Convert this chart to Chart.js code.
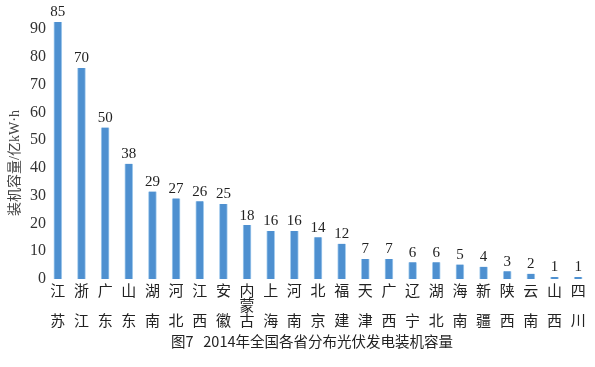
<!DOCTYPE html>
<html>
<head>
<meta charset="utf-8">
<script src="https://cdn.jsdelivr.net/npm/chart.js@4/dist/chart.umd.min.js"></script>
<style>
  html, body { margin: 0; padding: 0; background: #fff; }
  #wrap { width: 595px; height: 367px; position: relative; }
</style>
</head>
<body>
<div id="wrap"><canvas id="chart"></canvas></div>
<script>
// provinces, written top-to-bottom as in the picture
const provinces = [
  ['江', '', '苏'], ['浙', '', '江'], ['广', '', '东'], ['山', '', '东'],
  ['湖', '', '南'], ['河', '', '北'], ['江', '', '西'], ['安', '', '徽'],
  ['内', '蒙', '古'], ['上', '', '海'], ['河', '', '南'], ['北', '', '京'],
  ['福', '', '建'], ['天', '', '津'], ['广', '', '西'], ['辽', '', '宁'],
  ['湖', '', '北'], ['海', '', '南'], ['新', '', '疆'], ['陕', '', '西'],
  ['云', '', '南'], ['山', '', '西'], ['四', '', '川']
];
// printed value over each bar
const labelValues = [85, 70, 50, 38, 29, 27, 26, 25, 18, 16, 16, 14, 12, 7, 7, 6, 6, 5, 4, 3, 2, 1, 1];
// bar heights as they sit against the axis in the picture
const barHeights = [92.5, 76, 54.5, 41.5, 31.5, 29, 28, 27, 19.4, 17.3, 17.3, 15, 12.7, 7.2, 7.2, 6, 6, 5.2, 4.4, 2.8, 1.9, 0.7, 0.7];
const yTicks = [0, 10, 20, 30, 40, 50, 60, 70, 80, 90];
const yTitle = '装机容量/亿kW·h';
const caption = '图7   2014年全国各省分布光伏发电装机容量';

const cjk = '"Noto Sans CJK SC", "Noto Sans", sans-serif';
const serif = '"Liberation Serif", "DejaVu Serif", serif';

const valueLabels = {
  id: 'valueLabels',
  afterDatasetsDraw(chart) {
    const ctx = chart.ctx;
    const meta = chart.getDatasetMeta(0);
    ctx.save();
    ctx.font = '15px ' + serif;
    ctx.fillStyle = '#222';
    ctx.textAlign = 'center';
    ctx.textBaseline = 'bottom';
    meta.data.forEach((bar, i) => {
      ctx.fillText(String(labelValues[i]), bar.x, bar.y - 2);
    });
    ctx.restore();
  }
};

const extraText = {
  id: 'extraText',
  afterDraw(chart) {
    const ctx = chart.ctx;
    ctx.save();
    ctx.fillStyle = '#444';
    ctx.font = '14px "Liberation Serif", "Noto Sans CJK SC", serif';
    ctx.textAlign = 'center';
    ctx.textBaseline = 'middle';
    ctx.translate(15, 163);
    ctx.rotate(-Math.PI / 2);
    ctx.fillText(yTitle, 0, 0);
    ctx.restore();

    ctx.save();
    ctx.fillStyle = '#222';
    ctx.font = '14.5px ' + cjk;
    ctx.textAlign = 'center';
    ctx.textBaseline = 'middle';
    ctx.fillText(caption, 312, 341);
    ctx.restore();
  }
};

new Chart(document.getElementById('chart'), {
  type: 'bar',
  data: {
    labels: provinces,
    datasets: [{
      data: barHeights,
      backgroundColor: '#4e90d0',
      borderColor: '#a6cdee',
      borderWidth: { left: 1, right: 1, top: 0, bottom: 0 },
      borderSkipped: false,
      barThickness: 8
    }]
  },
  options: {
    responsive: true,
    maintainAspectRatio: false,
    animation: false,
    layout: { padding: { left: 0, right: 5, top: 14, bottom: 35 } },
    plugins: {
      legend: { display: false },
      tooltip: { enabled: false }
    },
    scales: {
      x: {
        grid: { display: false, drawTicks: false },
        border: { display: false },
        ticks: {
          autoSkip: false,
          maxRotation: 0,
          padding: 4,
          color: '#222',
          font: { family: cjk, size: 15, lineHeight: 1.0 }
        }
      },
      y: {
        min: 0,
        max: 95.4,
        grid: { display: false, drawTicks: false },
        border: { display: false },
        afterBuildTicks(scale) {
          scale.ticks = yTicks.map((v) => ({ value: v }));
        },
        afterFit(scale) { scale.width = 46; },
        ticks: {
          padding: 0,
          color: '#333',
          font: { family: serif, size: 16 }
        }
      }
    }
  },
  plugins: [valueLabels, extraText]
});
</script>
</body>
</html>
